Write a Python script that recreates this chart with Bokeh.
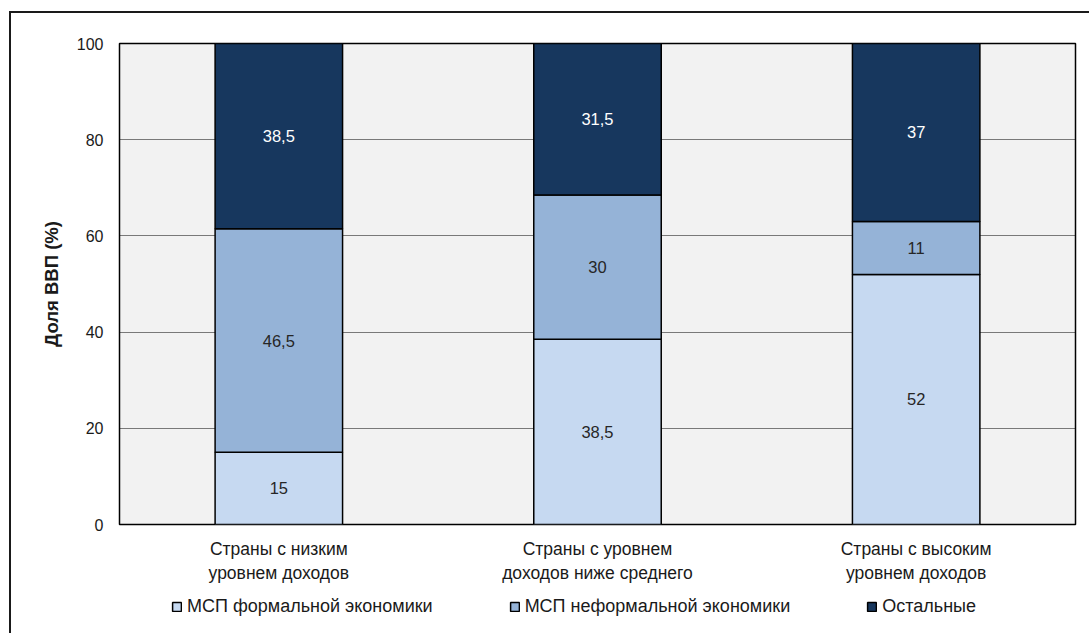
from bokeh.plotting import figure
from bokeh.layouts import column
from bokeh.models import (ColumnDataSource, LabelSet, Legend, LegendItem,
                          FixedTicker, Range1d)
from bokeh.core.properties import value
from bokeh.embed import file_html
from bokeh.resources import INLINE

# ---- data ----
categories = ["Страны с низким\nуровнем доходов",
              "Страны с уровнем\nдоходов ниже среднего",
              "Страны с высоким\nуровнем доходов"]
series = ["formal", "informal", "other"]
series_names = ["МСП формальной экономики", "МСП неформальной экономики", "Остальные"]
formal = [15, 38.5, 52]
informal = [46.5, 30, 11]
other = [38.5, 31.5, 37]
y_ticks = [0, 20, 40, 60, 80, 100]
colors = ["#c6d9f1", "#95b3d7", "#17375e"]
text_colors = ["#262626", "#262626", "#ffffff"]

FONT = "Liberation Sans"

src = ColumnDataSource(dict(cat=categories, formal=formal, informal=informal, other=other))

p = figure(x_range=categories, y_range=Range1d(0, 100), width=1078, height=572,
           output_backend="svg", toolbar_location=None,
           min_border_left=108, min_border_right=14, min_border_top=30, min_border_bottom=60)

p.background_fill_color = "#f2f2f2"
p.border_fill_color = "white"
p.outline_line_color = "black"
p.outline_line_width = 1.5

renderers = p.vbar_stack(series, x="cat", width=0.4, source=src, fill_color=colors,
                         line_color="black", line_width=1.5)

# segment labels
lx, ly, lt, lc = [], [], [], []
for i, c in enumerate(categories):
    base = 0
    for s_vals, tc in zip([formal, informal, other], text_colors):
        v = s_vals[i]
        lx.append(c)
        ly.append(base + v / 2)
        lt.append(("%g" % v).replace(".", ","))
        lc.append(tc)
        base += v
lsrc = ColumnDataSource(dict(x=lx, y=ly, t=lt, c=lc))
labels = LabelSet(x="x", y="y", text="t", source=lsrc, text_color="c",
                  text_align="center", text_baseline="middle",
                  text_font=value(FONT), text_font_size="16.5px")
p.add_layout(labels)

# grid
p.xgrid.grid_line_color = None
p.ygrid.ticker = FixedTicker(ticks=y_ticks)
p.ygrid.grid_line_color = "black"
p.ygrid.grid_line_dash = "1 1"
p.ygrid.grid_line_width = 1
p.ygrid.level = "underlay"

# axes
p.yaxis.ticker = FixedTicker(ticks=y_ticks)
p.yaxis.axis_line_color = None
p.yaxis.major_tick_line_color = None
p.yaxis.minor_tick_line_color = None
p.yaxis.major_tick_out = 0
p.yaxis.major_label_standoff = 16
p.yaxis.major_label_text_font = FONT
p.yaxis.major_label_text_font_size = "16px"
p.yaxis.major_label_text_color = "#1a1a1a"
p.yaxis.axis_label = "Доля ВВП (%)"
p.yaxis.axis_label_text_font = FONT
p.yaxis.axis_label_text_font_size = "18.5px"
p.yaxis.axis_label_text_font_style = "bold"
p.yaxis.axis_label_text_color = "#1a1a1a"
p.yaxis.axis_label_standoff = 12

p.xaxis.axis_line_color = None
p.xaxis.major_tick_line_color = None
p.xaxis.major_tick_out = 0
p.xaxis.major_label_standoff = 14
p.xaxis.major_label_text_font = FONT
p.xaxis.major_label_text_font_size = "17.5px"
p.xaxis.major_label_text_color = "#1a1a1a"

# ---- legend strip (separate small figure below) ----
p2 = figure(x_range=categories, y_range=Range1d(0, 100), width=1078, height=48,
            output_backend="svg", toolbar_location=None,
            x_axis_location=None, y_axis_location=None,
            min_border_left=0, min_border_right=0, min_border_top=0, min_border_bottom=0)
p2.outline_line_color = None
p2.grid.grid_line_color = None
p2.background_fill_color = "white"
p2.border_fill_color = "white"
leg_renderers = p2.vbar_stack(series, x="cat", width=0.4, source=src, fill_color=colors,
                              line_color="black", line_width=1.5)
for r in leg_renderers:
    r.visible = False

legend = Legend(items=[LegendItem(label=n, renderers=[r]) for n, r in zip(series_names, leg_renderers)],
                location=(52, 16), orientation="horizontal",
                padding=0, margin=0, spacing=76, border_line_color=None,
                background_fill_alpha=0, glyph_width=11, glyph_height=11,
                label_standoff=5, label_height=20,
                inactive_fill_alpha=0,
                label_text_font=FONT, label_text_font_size="18px",
                label_text_color="#1a1a1a")
p2.add_layout(legend)

layout = column(p, p2, spacing=0,
                styles={"border-left": "2px solid #1a1a1a", "border-top": "2px solid #1a1a1a",
                        "margin-left": "9px", "margin-top": "11px"})

open("out.html", "w").write(file_html(layout, INLINE))
